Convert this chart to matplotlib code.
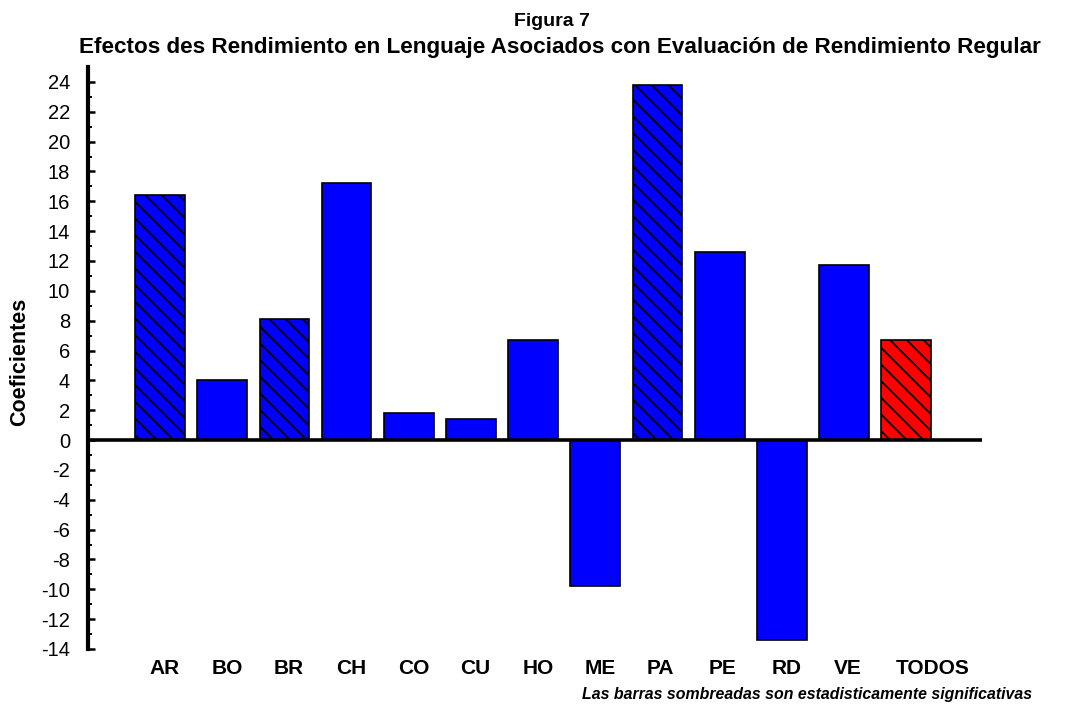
import matplotlib
matplotlib.use("Agg")
import matplotlib.pyplot as plt
import matplotlib.transforms as mtransforms
import numpy as np

plt.rcParams['font.family'] = ['Liberation Sans', 'DejaVu Sans']
plt.rcParams['hatch.linewidth'] = 1.3

categories = ["AR", "BO", "BR", "CH", "CO", "CU", "HO", "ME", "PA", "PE", "RD", "VE", "TODOS"]
values = [16.4, 4.0, 8.1, 17.2, 1.8, 1.4, 6.7, -9.8, 23.8, 12.6, -13.4, 11.7, 6.7]
significant = [True, False, True, False, False, False, False, False, True, False, False, False, True]
colors = ["#0000FF"] * 12 + ["#FF0000"]
yticks = list(range(-14, 25, 2))

fig = plt.figure(figsize=(10.77, 7.06), dpi=100)
ax = fig.add_axes([88/1077, 1-649/706, (982-88)/1077, (649-67)/706])

x = np.arange(len(categories))
for xi, v, sig, c in zip(x, values, significant, colors):
    ax.bar(xi, v, width=0.8, color=c, edgecolor='black', linewidth=1.2,
           hatch='\\\\' if sig else None, zorder=2)

ax.axhline(0, color='black', linewidth=2.6, zorder=3)
ax.set_xlim(-1.16, 13.22)
ax.set_ylim(-14, 25)

for s in ['top', 'right', 'bottom']:
    ax.spines[s].set_visible(False)
ax.spines['left'].set_linewidth(3)
ax.spines['left'].set_bounds(-14, 25)

ax.set_yticks(yticks)
ax.set_yticklabels([str(t) for t in yticks], fontsize=14.5)
ax.set_yticks(np.arange(-13, 25, 2), minor=True)
ax.tick_params(axis='y', which='major', direction='in', length=5, width=1.8, pad=13)
ax.tick_params(axis='y', which='minor', direction='in', length=2.6, width=1.4)
ax.set_xticks([])

trans = mtransforms.blended_transform_factory(ax.transData, fig.transFigure)
for xi, lab in zip(x, categories):
    ax.text(xi - 0.17, 1 - 674/706, lab, transform=trans, ha='left', va='baseline',
            fontsize=15, fontweight='bold')

fig.text(20/1077, 1 - 362/706, "Coeficientes", rotation=90, ha='center', va='center',
         fontsize=15.5, fontweight='bold')
fig.text(552/1077, 1 - 26/706, "Figura 7", ha='center', va='baseline',
         fontsize=14, fontweight='bold')
fig.text(560/1077, 1 - 53/706,
         "Efectos des Rendimiento en Lenguaje Asociados con Evaluación de Rendimiento Regular",
         ha='center', va='baseline', fontsize=16.2, fontweight='bold')
fig.text(1032/1077, 1 - 699/706, "Las barras sombreadas son estadisticamente significativas",
         ha='right', va='baseline', fontsize=11.4, fontweight='bold', fontstyle='italic')

fig.savefig("out.png", dpi=100)
